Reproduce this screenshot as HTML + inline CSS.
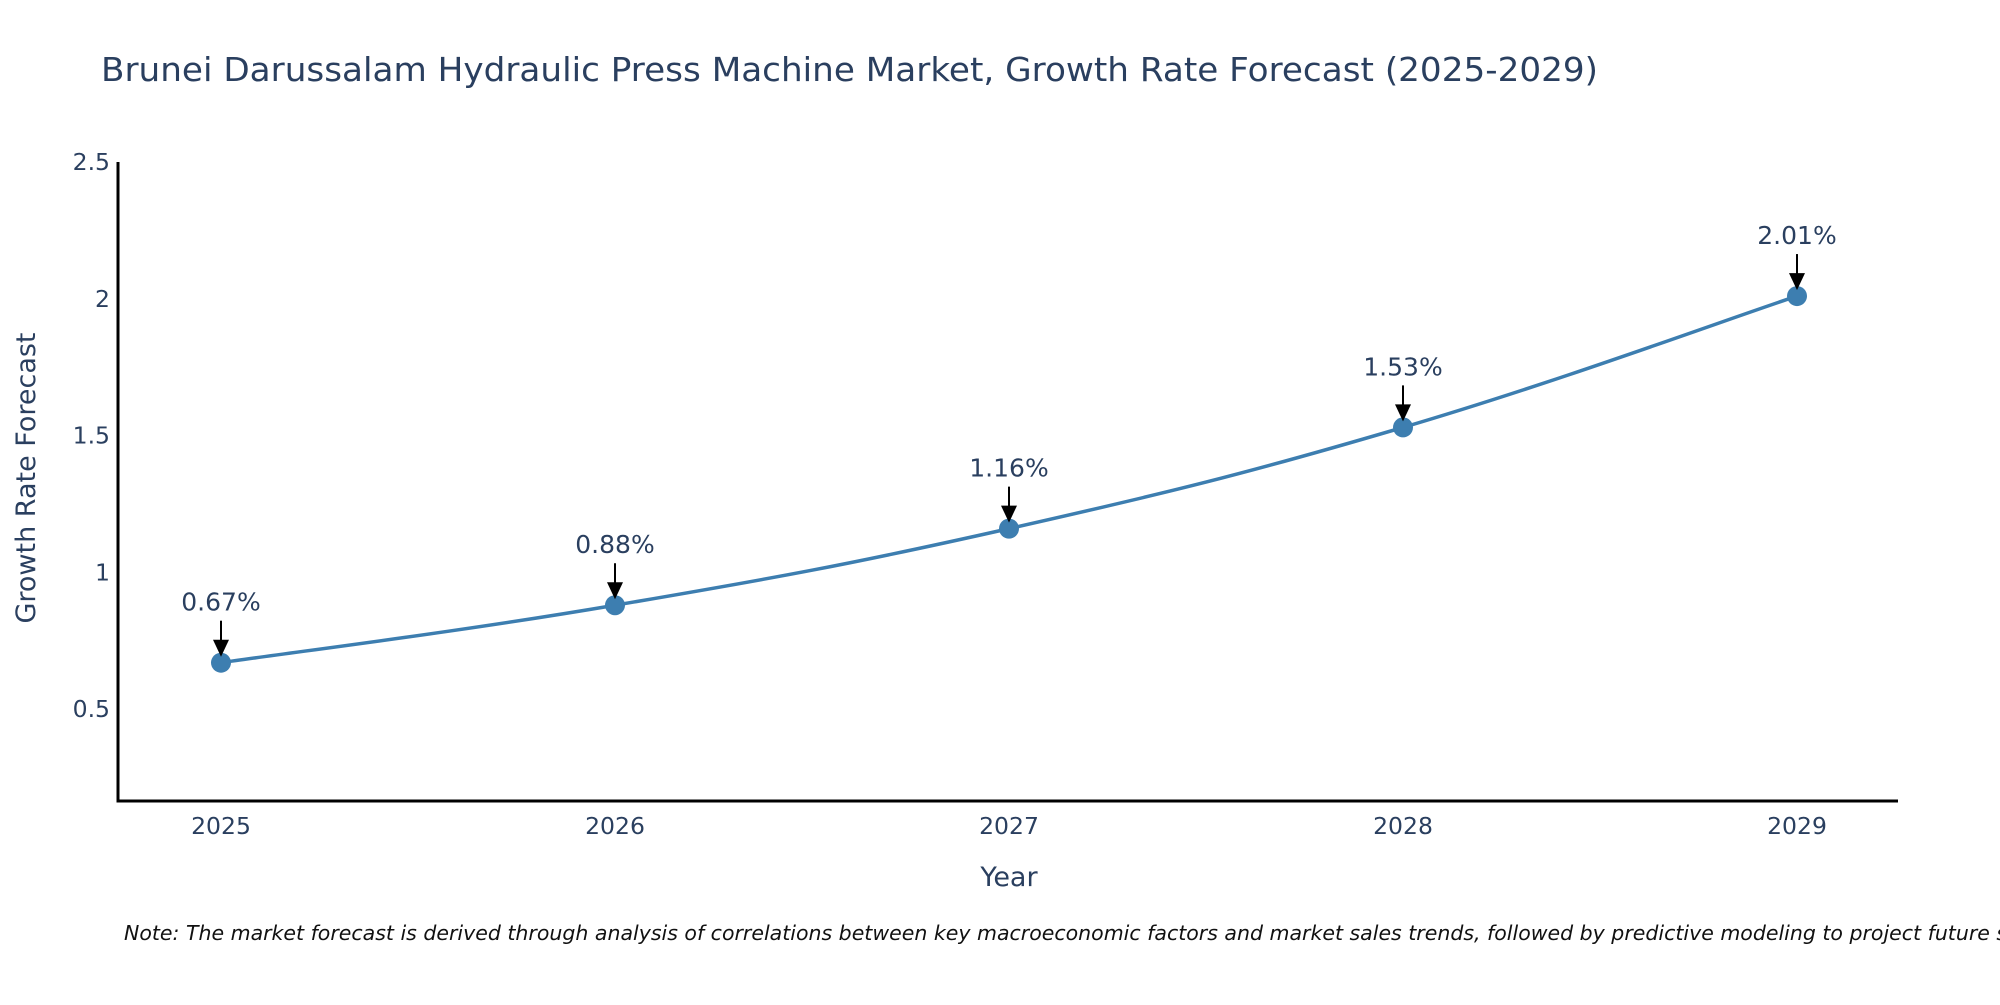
<!DOCTYPE html>
<html><head><meta charset="utf-8"><style>
html,body{margin:0;padding:0;background:#fff;overflow:hidden;}
svg text{font-family:"DejaVu Sans","Liberation Sans",sans-serif;fill:#2a3f5f;}
</style></head><body>
<svg id="chart" width="2000" height="1000" viewBox="0 0 2000 1000" xmlns="http://www.w3.org/2000/svg">
<rect width="2000" height="1000" fill="#fff"/>
<text x="101" y="81" font-size="33" textLength="1497" lengthAdjust="spacingAndGlyphs">Brunei Darussalam Hydraulic Press Machine Market, Growth Rate Forecast (2025-2029)</text>
<g id="axes"></g>
<g id="series"></g>
<text transform="translate(35,478) rotate(-90)" text-anchor="middle" font-size="27">Growth Rate Forecast</text>
<text x="1009" y="886" text-anchor="middle" font-size="27">Year</text>
<text x="124" y="940" font-size="20.5" font-style="italic" style="fill:#111">Note: The market forecast is derived through analysis of correlations between key macroeconomic factors and market sales trends, followed by predictive modeling to project future sales</text>
</svg>
<script>
const years = [2025, 2026, 2027, 2028, 2029];
const values = [0.67, 0.88, 1.16, 1.53, 2.01];
const valueLabels = ["0.67%", "0.88%", "1.16%", "1.53%", "2.01%"];
const yTicks = [0.5, 1, 1.5, 2, 2.5];
const yTickLabels = ["0.5", "1", "1.5", "2", "2.5"];

const NS = "http://www.w3.org/2000/svg";
const X0 = 118, X1 = 1898, YTOP = 162, YBOT = 801;
function xs(yr){ return 221 + (yr - years[0]) * (1797 - 221) / (years[years.length-1] - years[0]); }
function ys(v){ return 162 + (2.5 - v) * 273.6; }
function mk(tag, attrs, parent){ const e = document.createElementNS(NS, tag); for (const k in attrs) e.setAttribute(k, attrs[k]); parent.appendChild(e); return e; }

const axes = document.getElementById('axes');
const yAxis = mk('line', {x1:X0, y1:YTOP, x2:X0, y2:YBOT+1.5, stroke:'#000', 'stroke-width':3}, axes);


const xAxis = mk('line', {x1:X0-1.5, y1:YBOT, x2:X1, y2:YBOT, stroke:'#000', 'stroke-width':3}, axes);



yTicks.forEach((t, i) => {
  const tx = mk('text', {x:110, y:ys(t)+8, 'text-anchor':'end', 'font-size':23.5}, axes);
  tx.textContent = yTickLabels[i];
  
  
});
years.forEach(yr => {
  const tx = mk('text', {x:xs(yr), y:834, 'text-anchor':'middle', 'font-size':23.5}, axes);
  tx.textContent = String(yr);
  
  
});

const series = document.getElementById('series');
const pts = years.map((yr, i) => [xs(yr), ys(values[i])]);
let d = 'M' + pts[0][0] + ',' + pts[0][1];
for (let i = 0; i < pts.length - 1; i++) {
  const p0 = pts[Math.max(0, i-1)], p1 = pts[i], p2 = pts[i+1], p3 = pts[Math.min(pts.length-1, i+2)];
  const t = 0.2;
  const c1 = [p1[0] + (p2[0]-p0[0])*t, p1[1] + (p2[1]-p0[1])*t];
  const c2 = [p2[0] - (p3[0]-p1[0])*t, p2[1] - (p3[1]-p1[1])*t];
  d += ' C' + c1.join(',') + ' ' + c2.join(',') + ' ' + p2.join(',');
}
const line = mk('path', {d:d, fill:'none', stroke:'#3d7eb0', 'stroke-width':3.5}, series);



pts.forEach((p, i) => {
  const c = mk('circle', {cx:p[0], cy:p[1], r:10, fill:'#3d7eb0'}, series);
  
  
  const a = mk('line', {x1:p[0], y1:p[1]-42, x2:p[0], y2:p[1]-20, stroke:'#000', 'stroke-width':2}, series);
  
  
  const h = mk('polygon', {points:(p[0]-8)+','+(p[1]-23)+' '+(p[0]+8)+','+(p[1]-23)+' '+p[0]+','+(p[1]-6), fill:'#000'}, series);
  
  
  const lb = mk('text', {x:p[0], y:p[1]-52, 'text-anchor':'middle', 'font-size':25}, series);
  lb.textContent = valueLabels[i];
  
  
});
</script>
</body></html>
